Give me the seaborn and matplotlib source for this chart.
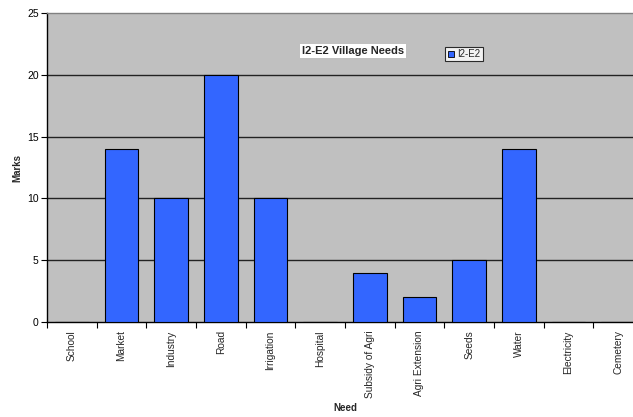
import matplotlib
matplotlib.use("Agg")
import matplotlib.pyplot as plt
import seaborn as sns
import pandas as pd
import numpy as np
from matplotlib.lines import Line2D

needs = ["School", "Market", "Industry", "Road", "Irrigation", "Hospital",
         "Subsidy of Agri", "Agri Extension", "Seeds", "Water", "Electricity",
         "Cemetery"]
marks = [0, 14, 10, 20, 10, 0, 4, 2, 5, 14, 0, 0]
y_ticks = [0, 5, 10, 15, 20, 25]
series_name = "I2-E2"
chart_title = "I2-E2 Village Needs"

sns.set_theme(style="white")
plt.rcParams["font.family"] = ["Liberation Sans", "DejaVu Sans"]

df = pd.DataFrame({"Need": needs, "Marks": marks})

fig = plt.figure(figsize=(6.33, 4.17), dpi=100)
W, H = 633, 417
left, right, top, bottom = 47, 643, 13, 322
ax = fig.add_axes([left / W, (H - bottom) / H, (right - left) / W, (bottom - top) / H])
ax.set_facecolor("#c0c0c0")

sns.barplot(data=df, x="Need", y="Marks", ax=ax, color="#3366ff",
            saturation=1, width=0.68, edgecolor="black", linewidth=0.8,
            zorder=3)

ax.set_xlim(-0.5, len(needs) - 0.5)
ax.set_ylim(0, 25)
ax.set_yticks(y_ticks)
ax.set_yticklabels([str(v) for v in y_ticks], fontsize=7.5, color="#000000")
for v in y_ticks[1:-1]:
    ax.axhline(v, color="#222222", linewidth=1.0, zorder=1)

# category labels at centres, tick marks at category boundaries
ax.set_xticks(np.arange(len(needs)))
ax.set_xticklabels(needs, rotation=90, fontsize=7.3, va="top", ha="center")
ax.tick_params(axis="x", which="major", length=0, pad=6)
ax.set_xticks(np.arange(len(needs) + 1) - 0.5, minor=True)
ax.tick_params(axis="x", which="minor", length=4, width=0.8, color="black",
               direction="out", bottom=True)
ax.tick_params(axis="y", length=4, width=0.8, color="black", direction="out",
               left=True, pad=2)

for side in ["left", "bottom"]:
    ax.spines[side].set_color("black")
    ax.spines[side].set_linewidth(1.0)
ax.spines["top"].set_color("#808080")
ax.spines["top"].set_linewidth(1.0)
ax.spines["right"].set_visible(False)

ax.set_xlabel("Need", fontsize=7, fontweight="bold")
ax.set_ylabel("Marks", fontsize=7, fontweight="bold")
ax.xaxis.set_label_coords((345 - left) / (right - left), -(403 - bottom) / (bottom - top))
ax.yaxis.set_label_coords(-(left - 22) / (right - left), 0.5)

fig.text(353 / W, 1 - 51 / H, chart_title, fontsize=8, fontweight="bold",
         ha="center", va="center",
         bbox=dict(facecolor="white", edgecolor="none", pad=1.5))

handle = Line2D([], [], marker="s", linestyle="none", markersize=5,
                markerfacecolor="#3366ff", markeredgecolor="black",
                markeredgewidth=0.6)
leg = fig.legend([handle], [series_name], loc="center",
                 bbox_to_anchor=(464 / W, 1 - 54 / H), fontsize=7,
                 frameon=True, fancybox=False, handlelength=0.8,
                 handletextpad=0.2, borderpad=0.25, borderaxespad=0)
leg.get_frame().set_edgecolor("black")
leg.get_frame().set_linewidth(0.8)
leg.get_frame().set_facecolor("white")

fig.savefig("out.png", dpi=100, facecolor="white")
